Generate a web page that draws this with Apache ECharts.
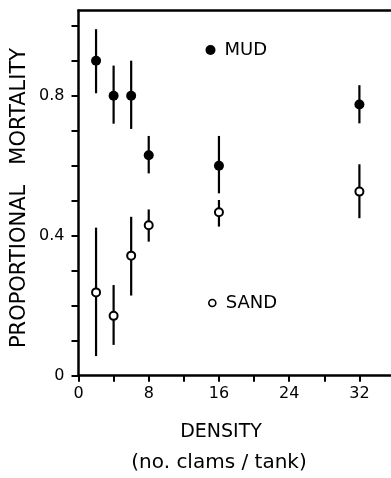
<!DOCTYPE html>
<html>
<head>
<meta charset="utf-8">
<script src="https://cdn.jsdelivr.net/npm/echarts@6/dist/echarts.min.js"></script>
<style>
  html, body { margin: 0; padding: 0; background: #fff; }
  #chart { width: 391px; height: 478px; }
</style>
</head>
<body>
<div id="chart"></div>
<script>
// clam density vs proportional mortality, mean with error bars
const density = [2, 4, 6, 8, 16, 32];
const mudMean = [0.90, 0.80, 0.80, 0.63, 0.60, 0.775];
const mudLow = [0.807, 0.72, 0.705, 0.578, 0.521, 0.721];
const mudHigh = [0.99, 0.886, 0.90, 0.685, 0.685, 0.83];
const sandMean = [0.238, 0.171, 0.343, 0.43, 0.467, 0.526];
const sandLow = [0.056, 0.088, 0.229, 0.383, 0.426, 0.45];
const sandHigh = [0.423, 0.259, 0.454, 0.475, 0.502, 0.604];

const xTicks = [0, 4, 8, 12, 16, 20, 24, 28, 32];
const xLabels = [0, 8, 16, 24, 32];
const yTicks = [0, 0.1, 0.2, 0.3, 0.4, 0.5, 0.6, 0.7, 0.8, 0.9, 1.0];
const yLabels = [0, 0.4, 0.8];

const font = 'DejaVu Sans';
const ink = '#000';

const errData = (lo, hi) => density.map((x, i) => [x, lo[i], hi[i]]);
const pts = (m) => density.map((x, i) => [x, m[i]]);

const errSeries = (name, lo, hi) => ({
  name: name,
  type: 'custom',
  z: 1,
  silent: true,
  data: errData(lo, hi),
  renderItem: (params, api) => {
    const a = api.coord([api.value(0), api.value(1)]);
    const b = api.coord([api.value(0), api.value(2)]);
    return {
      type: 'line',
      shape: { x1: a[0], y1: a[1], x2: b[0], y2: b[1] },
      style: { stroke: ink, lineWidth: 2.2 }
    };
  }
});

const chart = echarts.init(document.getElementById('chart'));

chart.setOption({
  animation: false,
  backgroundColor: '#fff',
  grid: { left: 78.5, right: 0, top: 10.5, bottom: 102.3 },
  textStyle: { fontFamily: font, color: ink },
  legend: [
    {
      data: [{ name: 'MUD', itemStyle: { color: ink, opacity: 1 } }],
      left: 200.5,
      top: 36,
      itemWidth: 10,
      itemHeight: 10,
      textStyle: { fontFamily: font, fontSize: 18, color: ink, padding: [0, 0, 0, 4] }
    },
    {
      data: [{ name: 'SAND', itemStyle: { color: '#fff', borderColor: ink, borderWidth: 1.6, opacity: 1 } }],
      left: 203,
      top: 289,
      itemWidth: 7,
      itemHeight: 7,
      textStyle: { fontFamily: font, fontSize: 18, color: ink, padding: [0, 0, 0, 5] }
    }
  ],
  xAxis: [
    {
      type: 'value',
      min: 0,
      max: 35.6,
      splitLine: { show: false },
      axisLine: { lineStyle: { color: ink, width: 2.5 } },
      axisTick: { length: 6, lineStyle: { color: ink, width: 2 }, customValues: xTicks },
      axisLabel: {
        customValues: xLabels,
        margin: 10,
        fontSize: 16,
        fontFamily: font,
        color: ink
      }
    },
    {
      type: 'value',
      position: 'top',
      min: 0,
      max: 35.6,
      splitLine: { show: false },
      axisLine: { lineStyle: { color: ink, width: 2.5 } },
      axisTick: { show: false },
      axisLabel: { show: false }
    }
  ],
  yAxis: {
    type: 'value',
    min: 0,
    max: 1.0434,
    splitLine: { show: false },
    axisLine: { lineStyle: { color: ink, width: 2.5 } },
    axisTick: { length: 7, lineStyle: { color: ink, width: 2 }, customValues: yTicks },
    axisLabel: {
      customValues: yLabels,
      margin: 14,
      fontSize: 16,
      fontFamily: font,
      color: ink,
      formatter: (v) => (v === 0 ? '0' : v.toFixed(1))
    }
  },
  graphic: [
    {
      type: 'text',
      x: 20,
      y: 198,
      rotation: Math.PI / 2,
      style: { text: 'PROPORTIONAL   MORTALITY', font: '21px "DejaVu Sans"', fill: ink, align: 'center', verticalAlign: 'middle' }
    },
    {
      type: 'text',
      style: { text: 'DENSITY', font: '19px "DejaVu Sans"', fill: ink, x: 221, y: 432, align: 'center', verticalAlign: 'middle' }
    },
    {
      type: 'text',
      style: { text: '(no. clams / tank)', font: '20px "DejaVu Sans"', fill: ink, x: 219, y: 463, align: 'center', verticalAlign: 'middle' }
    }
  ],
  series: [
    errSeries('mudErr', mudLow, mudHigh),
    errSeries('sandErr', sandLow, sandHigh),
    {
      name: 'MUD',
      type: 'scatter',
      z: 3,
      symbol: 'circle',
      symbolSize: 10,
      itemStyle: { color: ink, opacity: 1 },
      data: pts(mudMean)
    },
    {
      name: 'SAND',
      type: 'scatter',
      z: 3,
      symbol: 'circle',
      symbolSize: 8,
      itemStyle: { color: '#fff', borderColor: ink, borderWidth: 2, opacity: 1 },
      data: pts(sandMean)
    }
  ]
});
</script>
</body>
</html>
